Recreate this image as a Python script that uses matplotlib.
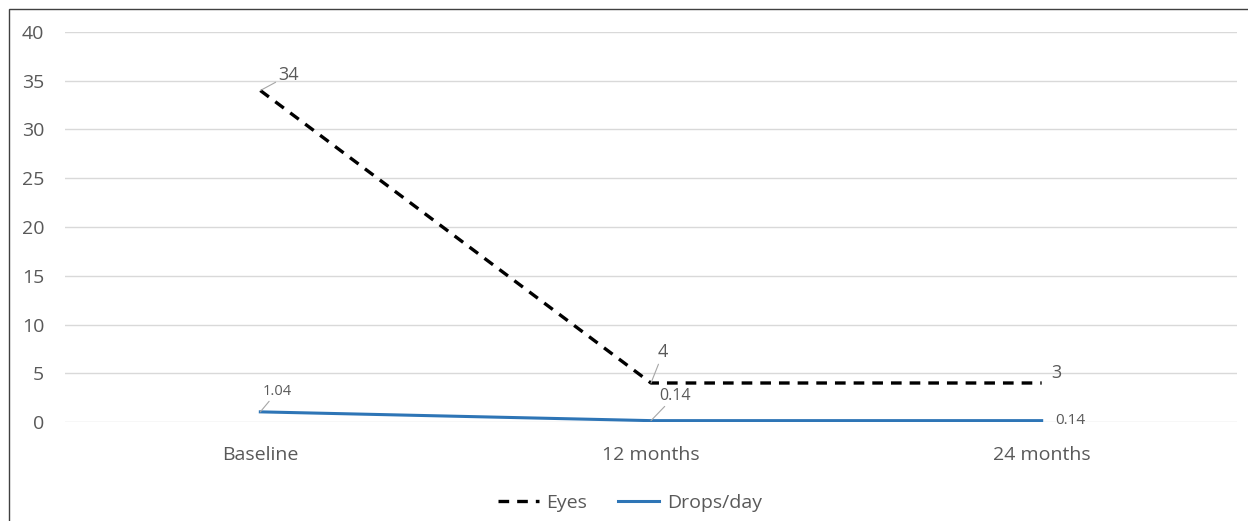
import matplotlib
matplotlib.use("Agg")
import matplotlib.pyplot as plt
from matplotlib.lines import Line2D
from matplotlib.patches import Rectangle

categories = ["Baseline", "12 months", "24 months"]
eyes = [34, 4, 4]
eyes_labels = ["34", "4", "3"]
drops = [1.04, 0.14, 0.14]
drops_labels = ["1.04", "0.14", "0.14"]
yticks = [0, 5, 10, 15, 20, 25, 30, 35, 40]

plt.rcParams['font.family'] = ['Open Sans', 'DejaVu Sans']
GRAY = "#595959"
W, H = 1248, 521
fig = plt.figure(figsize=(W / 100, H / 100), dpi=100)

# outer border
fig.patches.append(Rectangle((9 / W, -0.01), 1.2, (H - 9) / H + 0.01, transform=fig.transFigure,
                             fill=False, edgecolor="#404040", lw=1.0))

ax = fig.add_axes([65 / W, 99 / H, (1237 - 65) / W, 390 / H])
x = list(range(len(categories)))
ax.plot(x, eyes, color="black", lw=2.4, dashes=(3.2, 2.4), solid_capstyle="butt", zorder=3)
ax.plot(x, drops, color="#2E75B6", lw=2.2, zorder=3)

ax.set_xlim(-0.5, 2.5)
ax.set_ylim(0, 40)
ax.set_yticks(yticks)
ax.set_xticks(x)
ax.set_xticklabels(categories)
ax.grid(axis="y", color="#D9D9D9", lw=1.0)
ax.set_axisbelow(True)
for s in ax.spines.values():
    s.set_visible(False)
ax.tick_params(axis="both", length=0, colors=GRAY, labelsize=14)
ax.tick_params(axis="y", pad=15)
ax.tick_params(axis="x", pad=17)

lead = dict(arrowstyle="-", color="#A6A6A6", lw=0.8, shrinkA=0, shrinkB=0)
# Eyes labels
ax.annotate(eyes_labels[0], xy=(x[0], eyes[0]), xytext=(13, 11), textcoords="offset points",
            fontsize=13, color=GRAY, va="center", ha="left", arrowprops=lead)
ax.annotate(eyes_labels[1], xy=(x[1], eyes[1]), xytext=(5, 22), textcoords="offset points",
            fontsize=13, color=GRAY, va="center", ha="left", arrowprops=lead)
ax.annotate(eyes_labels[2], xy=(x[2], eyes[2]), xytext=(7, 7.5), textcoords="offset points",
            fontsize=13, color=GRAY, va="center", ha="left")
# Drops labels
ax.annotate(drops_labels[0], xy=(x[0], drops[0]), xytext=(2, 15), textcoords="offset points",
            fontsize=10.5, color=GRAY, va="center", ha="left", arrowprops=lead)
ax.annotate(drops_labels[1], xy=(x[1], drops[1]), xytext=(6, 18), textcoords="offset points",
            fontsize=11.5, color=GRAY, va="center", ha="left", arrowprops=lead)
ax.annotate(drops_labels[2], xy=(x[2], drops[2]), xytext=(9.5, 0), textcoords="offset points",
            fontsize=11, color=GRAY, va="center", ha="left")

handles = [Line2D([], [], color="black", lw=2.4, dashes=(3.2, 2.4)),
           Line2D([], [], color="#2E75B6", lw=2.2)]
fig.legend(handles, ["Eyes", "Drops/day"], loc="center", bbox_to_anchor=(630 / W, 18 / H),
           ncol=2, frameon=False, fontsize=14, labelcolor=GRAY, handlelength=2.1,
           handletextpad=0.4, columnspacing=1.6)

fig.savefig("out.png", dpi=100)
